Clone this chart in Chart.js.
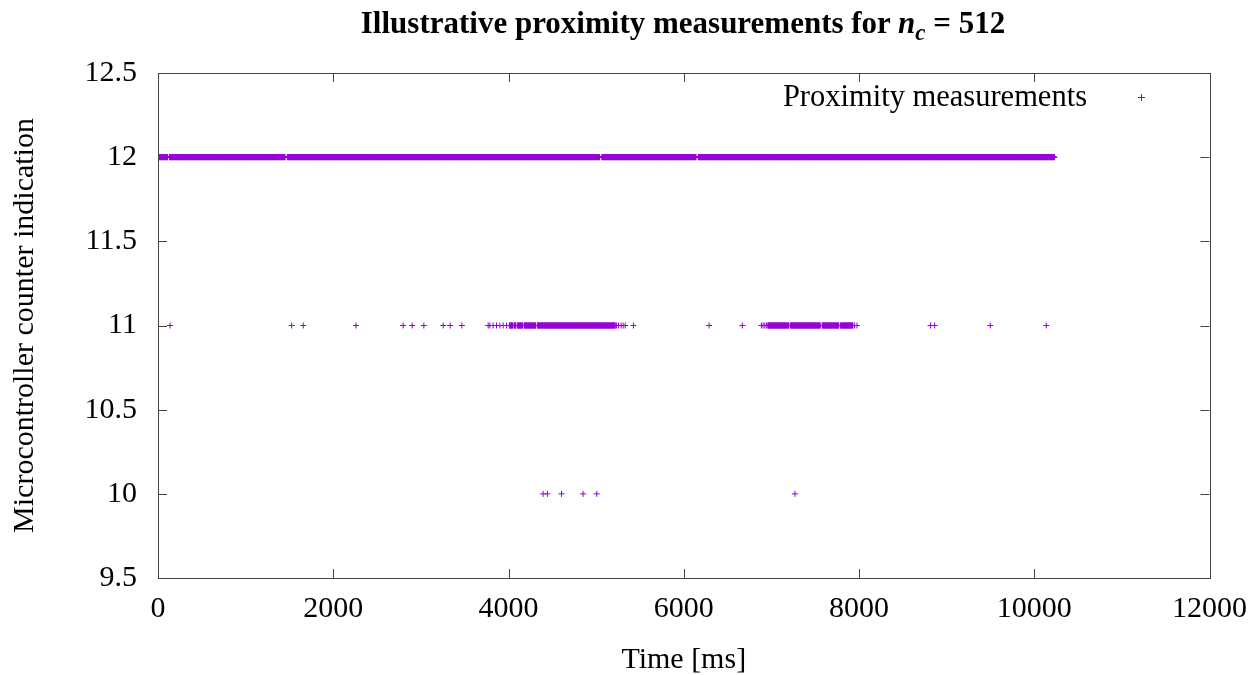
<!DOCTYPE html>
<html>
<head>
<meta charset="utf-8">
<script src="https://cdn.jsdelivr.net/npm/chart.js@4.4.1/dist/chart.umd.min.js"></script>
<style>
  html, body { margin: 0; padding: 0; background: #fff; }
  #wrap { position: relative; width: 1260px; height: 675px; }
  #title {
    position: absolute; left: 0; top: 5px; width: 1366px;
    text-align: center; font: bold 31px "Liberation Serif", serif; color: #000;
  }
  #title sub { font-size: 23px; vertical-align: -7px; }
</style>
</head>
<body>
<div id="wrap">
  <canvas id="myChart" width="1260" height="675"></canvas>
  <div id="title">Illustrative proximity measurements for <i>n</i><sub><i>c</i></sub> = 512</div>
</div>
<script>
// readings, times in ms
const samplePeriodMs = 5;
const runsAt12 = [[0, 110], [130, 1450], [1475, 5040], [5065, 6140], [6165, 10230]];
const runsAt11 = [[4010, 4045], [4062, 4082], [4100, 4160], [4178, 4310], [4328, 5220],
                  [6960, 7200], [7218, 7560], [7580, 7770], [7790, 7930]];
const singleAt11 = [137, 1525, 1658, 2259, 2798, 2901, 3034, 3255, 3335, 3468,
                    3768, 3787, 3825, 3863, 3901, 3939, 3978, 5232, 5255, 5285, 5308, 5332, 5426,
                    6289, 6669, 6886, 6905, 6925, 6943, 7950, 7977, 8817, 8863, 9498, 10137];
const singleAt10 = [4395, 4444, 4605, 4851, 5007, 7269];

const xTicks = [0, 2000, 4000, 6000, 8000, 10000, 12000];
const yTicks = [9.5, 10, 10.5, 11, 11.5, 12, 12.5];

const purple = '#9400d3';
const serif = '"Liberation Serif", "Times New Roman", serif';

// expand each dense run into samples at the logging period
function fromRuns(runs, level) {
    const pts = [];
    runs.forEach(r => {
        for (let t = r[0]; t <= r[1]; t += samplePeriodMs) pts.push({x: t, y: level});
    });
    return pts;
}

const points = fromRuns(runsAt12, 12)
    .concat(fromRuns(runsAt11, 11))
    .concat(singleAt11.map(t => ({x: t, y: 11})))
    .concat(singleAt10.map(t => ({x: t, y: 10})));

// frame, inward mirrored ticks and the key
const framePlugin = {
    id: 'frame',
    afterDraw(chart) {
        const c = chart.ctx;
        const a = chart.chartArea;
        const xs = chart.scales.x, ys = chart.scales.y;
        const len = 9;
        c.save();
        c.strokeStyle = '#444';
        c.lineWidth = 1;
        c.beginPath();
        xTicks.forEach(v => {
            const px = Math.round(xs.getPixelForValue(v)) + 0.5;
            c.moveTo(px, a.bottom); c.lineTo(px, a.bottom - len);
            c.moveTo(px, a.top); c.lineTo(px, a.top + len);
        });
        yTicks.forEach(v => {
            const py = Math.round(ys.getPixelForValue(v)) + 0.5;
            c.moveTo(a.left, py); c.lineTo(a.left + len, py);
            c.moveTo(a.right, py); c.lineTo(a.right - len, py);
        });
        c.stroke();
        c.strokeRect(Math.round(a.left) + 0.5, Math.round(a.top) + 0.5,
                     Math.round(a.right - a.left), Math.round(a.bottom - a.top));

        // key
        c.fillStyle = '#000';
        c.font = '30.5px ' + serif;
        c.textAlign = 'right';
        c.textBaseline = 'middle';
        c.fillText('Proximity measurements', 1087, 98);
        c.strokeStyle = purple;
        c.beginPath();
        c.moveTo(1138, 97.5); c.lineTo(1145, 97.5);
        c.moveTo(1141.5, 94); c.lineTo(1141.5, 101);
        c.stroke();
        c.restore();
    }
};

const ctx = document.getElementById('myChart').getContext('2d');

const myChart = new Chart(ctx, {
    type: 'scatter',
    data: {
        datasets: [{
            label: 'Proximity measurements',
            data: points,
            pointStyle: 'cross',
            pointRadius: 3,
            borderWidth: 1,
            borderColor: purple,
            backgroundColor: purple
        }]
    },
    options: {
        responsive: false,
        animation: false,
        layout: { padding: { top: 73, right: 50, left: 0, bottom: 0 } },
        plugins: {
            legend: { display: false },
            title: { display: false },
            tooltip: { enabled: false }
        },
        elements: { point: { hoverRadius: 3 } },
        scales: {
            x: {
                type: 'linear',
                min: 0, max: 12000,
                afterBuildTicks: s => { s.ticks = xTicks.map(v => ({value: v})); },
                afterFit: s => { s.height = 97; },
                grid: { display: false, drawTicks: false },
                border: { display: false },
                ticks: {
                    color: '#000', padding: 13,
                    font: { family: serif, size: 30 },
                    callback: v => String(v)
                },
                title: {
                    display: true, text: 'Time [ms]', color: '#000',
                    font: { family: serif, size: 30 },
                    padding: { top: 0, bottom: -3 }
                }
            },
            y: {
                type: 'linear',
                min: 9.5, max: 12.5,
                afterBuildTicks: s => { s.ticks = yTicks.map(v => ({value: v})); },
                afterFit: s => { s.width = 158; },
                grid: { display: false, drawTicks: false },
                border: { display: false },
                ticks: {
                    color: '#000', padding: 21,
                    font: { family: serif, size: 30 },
                    callback: v => String(v)
                },
                title: {
                    display: true, text: 'Microcontroller counter indication', color: '#000',
                    font: { family: serif, size: 30 },
                    padding: { top: 7, bottom: 0 }
                }
            }
        }
    },
    plugins: [framePlugin]
});
</script>
</body>
</html>
